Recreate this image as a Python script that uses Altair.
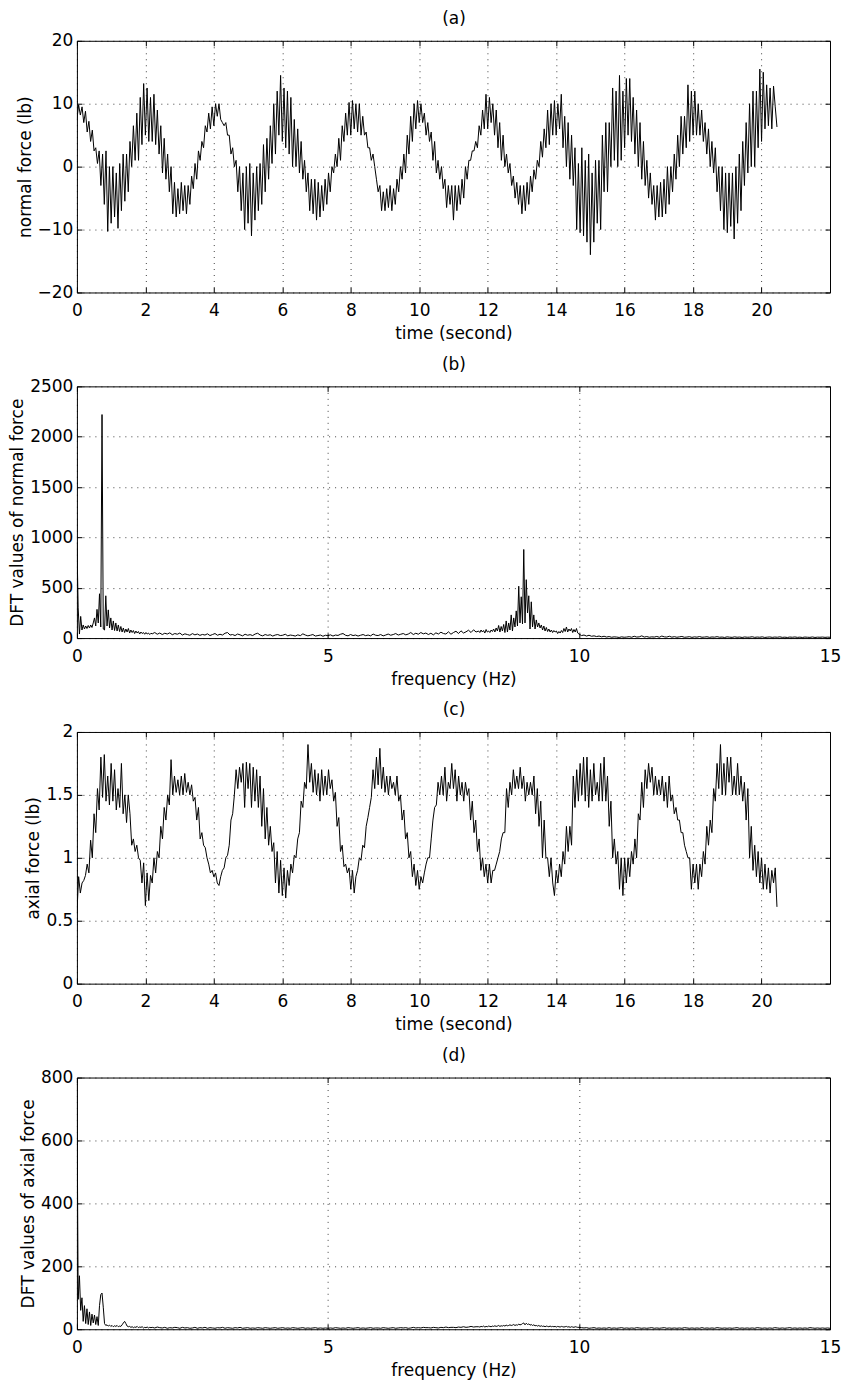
import altair as alt
import pandas as pd

FONT = "DejaVu Sans"
FS = 17
DT = 0.05  # sample interval of the force records (s)

# ---------------- (a) normal force (lb), one row = 1 s ----------------
normal_force = [
    7.5, 9.8, 8.2, 9.5, 7.0, 8.8, 5.5, 7.2, 4.0, 5.8, 2.5, 3.0, 0.5, 2.5, -3.0, 2.0, -6.0, 2.5, -10.3, 0.0,
    -9.0, 0.0, -8.0, -1.0, -9.8, 0.5, -7.0, 2.0, -5.5, 2.0, -4.0, 4.0, 0.0, 6.5, 1.0, 8.5, 1.0, 11.0, 3.5, 13.2,
    5.0, 12.5, 4.0, 11.0, 4.0, 11.5, 3.5, 9.0, 2.0, 6.5, -1.0, 4.5, -2.0, 2.0, -4.0, 0.0, -7.5, -2.5, -8.0, -3.5,
    -7.5, -2.5, -7.0, -3.0, -7.5, -3.0, -6.0, -1.5, -3.5, 0.5, -2.0, 2.5, 1.0, 4.0, 3.0, 6.5, 5.5, 8.5, 6.0, 9.5,
    6.5, 10.0, 8.0, 10.0, 7.5, 7.0, 6.5, 7.0, 5.0, 5.0, 2.0, 3.0, 0.0, 1.0, -4.0, 0.0, -7.0, -1.0, -10.0, 0.0,
    -9.0, 0.5, -11.0, -1.0, -8.5, 0.0, -7.0, 0.5, -6.0, 3.5, -4.0, 4.5, -2.0, 6.5, 0.5, 10.0, 2.0, 12.0, 5.0, 14.5,
    4.0, 12.5, 3.0, 12.0, 2.0, 11.0, 0.0, 7.5, 0.0, 6.0, -1.0, 4.0, -2.0, 1.0, -4.0, -1.0, -7.0, -2.0, -7.5, -2.0,
    -8.5, -2.5, -8.0, -3.0, -7.0, -2.0, -6.0, -1.0, -4.0, 0.0, -1.0, 2.0, 0.0, 4.5, 1.0, 6.5, 4.0, 8.5, 5.0, 10.2,
    5.0, 10.5, 6.0, 10.0, 5.5, 10.0, 5.0, 8.0, 5.0, 5.5, 3.0, 3.0, 1.0, 2.0, 0.0, -2.0, -4.0, -3.0, -7.0, -4.0,
    -7.0, -3.5, -6.5, -3.0, -7.0, -3.5, -6.0, -2.0, -4.0, 0.0, -2.0, 2.0, -1.0, 5.0, 2.0, 8.0, 4.0, 10.0, 6.0, 10.5,
    7.0, 10.0, 7.0, 8.5, 5.0, 7.0, 4.0, 5.5, 1.0, 4.0, -1.0, 1.0, -2.0, 0.0, -3.5, -2.0, -6.5, -3.0, -6.0, -3.0,
    -8.5, -3.0, -7.0, -3.0, -6.0, -2.0, -5.0, 0.0, -2.0, 1.0, 1.0, 2.5, 2.5, 4.0, 3.0, 6.5, 5.0, 9.0, 6.0, 11.5,
    6.0, 11.0, 7.0, 10.0, 5.0, 9.0, 3.0, 7.0, 1.0, 5.0, 0.0, 2.0, -1.0, 0.5, -3.0, -1.5, -5.0, -2.5, -6.0, -3.0,
    -7.5, -3.0, -7.0, -2.5, -6.0, -1.5, -4.0, -0.5, -2.0, 1.0, 0.0, 4.0, 1.5, 6.0, 3.0, 9.0, 3.5, 10.0, 5.0, 10.5,
    5.0, 10.0, 6.0, 11.5, 3.0, 8.0, 0.0, 7.0, -2.0, 5.0, -3.0, 3.0, -10.0, 0.5, -10.5, 3.0, -11.0, 1.0, -12.0, 2.0,
    -14.0, -1.0, -12.0, 1.0, -9.0, 1.0, -10.0, 5.0, -4.0, 7.0, -4.0, 7.0, 0.0, 12.5, 1.0, 12.0, 0.0, 14.5, 1.0, 12.0,
    3.0, 14.0, 5.0, 14.0, 4.0, 11.0, 2.0, 9.0, 0.0, 7.0, -2.0, 4.0, -3.0, 1.0, -5.0, -1.0, -6.0, -3.0, -8.5, -3.0,
    -8.0, -2.5, -8.0, -2.0, -7.5, 0.0, -6.0, 0.0, -4.0, 2.0, -2.0, 5.0, 0.0, 8.0, 2.0, 8.0, 3.0, 13.0, 4.0, 12.0,
    5.0, 12.0, 5.0, 10.0, 5.0, 9.0, 4.0, 7.0, 2.0, 6.0, 0.0, 4.0, -1.0, 3.0, -4.0, 0.0, -7.0, 0.0, -10.0, -1.0,
    -10.5, -1.0, -9.5, -1.0, -11.5, 0.0, -9.0, 2.0, -7.0, 4.0, -3.0, 7.0, -1.0, 10.0, 0.0, 12.0, 0.0, 12.0, 3.0, 15.5,
    4.0, 15.0, 6.0, 13.0, 6.5, 12.5, 6.0, 12.8, 9.5, 6.3,
]

# ---------------- (c) axial force (lb), one row = 1 s ----------------
axial_force = [
    0.56, 0.85, 0.72, 0.80, 0.82, 0.86, 0.95, 0.88, 1.14, 1.00, 1.35, 1.20, 1.55, 1.38, 1.80, 1.48, 1.82, 1.45, 1.65, 1.42,
    1.75, 1.45, 1.70, 1.38, 1.55, 1.40, 1.75, 1.35, 1.50, 1.28, 1.50, 1.35, 1.10, 1.15, 1.05, 1.10, 1.00, 0.98, 0.80, 0.96,
    0.62, 0.88, 0.66, 0.86, 0.80, 1.00, 0.88, 1.05, 1.00, 1.25, 1.15, 1.40, 1.30, 1.50, 1.42, 1.78, 1.50, 1.65, 1.52, 1.62,
    1.50, 1.65, 1.50, 1.67, 1.52, 1.60, 1.50, 1.58, 1.45, 1.48, 1.30, 1.40, 1.15, 1.20, 1.10, 1.08, 1.00, 0.95, 0.88, 0.90,
    0.85, 0.88, 0.80, 0.78, 0.85, 0.90, 0.92, 1.00, 1.02, 1.10, 1.30, 1.35, 1.50, 1.70, 1.55, 1.72, 1.60, 1.75, 1.40, 1.76,
    1.55, 1.75, 1.40, 1.72, 1.45, 1.70, 1.40, 1.65, 1.25, 1.55, 1.15, 1.40, 1.10, 1.25, 1.05, 1.12, 0.80, 1.05, 0.72, 0.98,
    0.70, 0.92, 0.68, 0.90, 0.78, 0.95, 0.88, 1.02, 1.00, 1.15, 1.20, 1.45, 1.40, 1.60, 1.55, 1.90, 1.60, 1.75, 1.52, 1.70,
    1.50, 1.67, 1.45, 1.70, 1.50, 1.65, 1.50, 1.70, 1.55, 1.62, 1.45, 1.52, 1.25, 1.32, 1.05, 1.10, 0.93, 0.95, 0.88, 0.92,
    0.75, 0.90, 0.72, 0.85, 0.90, 1.00, 0.98, 1.10, 1.08, 1.25, 1.32, 1.40, 1.48, 1.70, 1.55, 1.80, 1.58, 1.87, 1.55, 1.72,
    1.52, 1.65, 1.50, 1.65, 1.55, 1.60, 1.50, 1.65, 1.45, 1.50, 1.30, 1.38, 1.15, 1.20, 1.00, 1.05, 0.85, 0.95, 0.78, 0.90,
    0.75, 0.85, 0.80, 0.88, 0.95, 1.00, 1.00, 1.15, 1.30, 1.40, 1.42, 1.60, 1.50, 1.65, 1.50, 1.72, 1.45, 1.60, 1.55, 1.75,
    1.55, 1.70, 1.45, 1.65, 1.50, 1.60, 1.45, 1.60, 1.50, 1.55, 1.30, 1.45, 1.20, 1.30, 1.05, 1.15, 0.90, 1.00, 0.85, 0.95,
    0.80, 0.95, 0.80, 0.90, 0.90, 0.95, 1.00, 1.05, 1.15, 1.20, 1.20, 1.55, 1.40, 1.60, 1.50, 1.70, 1.55, 1.65, 1.55, 1.72,
    1.55, 1.65, 1.45, 1.60, 1.50, 1.60, 1.50, 1.65, 1.35, 1.55, 1.25, 1.45, 1.00, 1.30, 1.00, 1.00, 0.85, 1.00, 0.80, 0.70,
    0.90, 0.80, 0.95, 0.85, 1.05, 0.95, 1.25, 1.05, 1.25, 1.10, 1.65, 1.40, 1.70, 1.45, 1.75, 1.50, 1.80, 1.45, 1.80, 1.40,
    1.70, 1.45, 1.75, 1.50, 1.60, 1.45, 1.75, 1.45, 1.80, 1.45, 1.65, 1.25, 1.45, 1.00, 1.15, 0.95, 1.05, 0.75, 1.00, 0.70,
    1.00, 0.80, 1.00, 0.85, 1.05, 0.95, 1.15, 1.00, 1.35, 1.30, 1.60, 1.40, 1.70, 1.55, 1.75, 1.60, 1.72, 1.50, 1.65, 1.50,
    1.62, 1.50, 1.65, 1.45, 1.60, 1.40, 1.65, 1.45, 1.50, 1.35, 1.40, 1.30, 1.30, 1.20, 1.20, 1.10, 1.05, 1.00, 1.00, 0.75,
    0.95, 0.80, 0.95, 0.75, 0.95, 0.85, 1.05, 0.95, 1.25, 1.10, 1.30, 1.20, 1.55, 1.45, 1.75, 1.55, 1.90, 1.50, 1.75, 1.50,
    1.80, 1.60, 1.80, 1.50, 1.65, 1.50, 1.75, 1.50, 1.65, 1.45, 1.60, 1.30, 1.55, 1.00, 1.25, 0.90, 1.10, 0.85, 1.05, 0.80,
    1.00, 0.75, 0.95, 0.75, 0.92, 0.72, 0.90, 0.80, 0.92, 0.61,
]

# ---------------- (b) DFT of normal force ----------------
# segment grids: 0-1.5 Hz every 0.025, 1.5-8 every 0.05, 8-10 every 0.025, 10-15 every 0.05
dft_normal_low = [
    950, 300, 40, 215, 80, 130, 90, 120, 95, 125,
    100, 130, 105, 150, 200, 120, 285, 150, 440, 110,
    2220, 90, 80, 420, 120, 280, 100, 200, 80, 170,
    75, 150, 70, 130, 65, 115, 60, 100, 55, 90,
    60, 95, 50, 80, 55, 75, 45, 70, 50, 65,
    40, 60, 45, 55, 38, 55, 40, 50, 35, 48,
]
dft_normal_mid = [
    42, 55, 38, 50, 35, 48, 40, 52, 33, 45,
    38, 50, 30, 42, 35, 28, 44, 32, 40, 27,
    36, 30, 42, 25, 35, 45, 28, 38, 30, 48,
    55, 30, 35, 25, 40, 32, 22, 38, 28, 34,
    25, 40, 48, 30, 22, 35, 27, 33, 20, 30,
    35, 25, 28, 38, 22, 30, 26, 20, 32, 24,
    42, 30, 22, 28, 35, 20, 25, 30, 18, 28,
    24, 32, 20, 30, 26, 38, 45, 28, 22, 35,
    25, 30, 20, 28, 35, 24, 30, 22, 40, 28,
    25, 35, 22, 30, 40, 28, 35, 45, 30, 38,
    45, 32, 40, 55, 35, 48, 38, 55, 42, 50,
    35, 48, 32, 52, 40, 58, 45, 40, 62, 38,
    55, 68, 45, 72, 50, 62, 78, 55, 82, 60,
]
dft_normal_peak = [
    70, 55, 80, 60, 75, 50, 85, 60, 70, 55,
    80, 65, 90, 60, 100, 70, 125, 60, 115, 70,
    135, 55, 170, 60, 150, 80, 230, 70, 200, 110,
    270, 120, 515, 150, 410, 140, 880, 150, 580, 250,
    420, 90, 360, 110, 230, 90, 180, 110, 150, 100,
    130, 80, 120, 70, 105, 65, 90, 60, 80, 55,
    75, 60, 70, 45, 65, 50, 75, 55, 95, 65,
    110, 60, 90, 70, 95, 55, 85, 60, 95, 50,
]
dft_normal_high = [
    40, 25, 30, 20, 28, 18, 22, 15, 20, 12,
    18, 10, 15, 8, 12, 10, 6, 12, 8, 10,
    14, 8, 18, 10, 12, 22, 10, 15, 8, 12,
    10, 16, 8, 20, 12, 10, 18, 9, 14, 8,
    12, 16, 8, 10, 14, 7, 12, 9, 15, 8,
    10, 13, 7, 11, 9, 14, 8, 10, 6, 12,
    9, 7, 12, 8, 10, 6, 11, 8, 9, 13,
    7, 10, 8, 12, 6, 9, 11, 7, 10, 8,
    12, 7, 9, 6, 10, 8, 11, 7, 9, 6,
    10, 8, 7, 11, 6, 9, 8, 10, 7, 9,
    8,
]

# ---------------- (d) DFT of axial force ----------------
dft_axial_low = [
    790, 95, 170, 60, 100, 25, 75, 18, 65, 15,
    55, 12, 48, 20, 45, 15, 40, 12, 75, 110,
    115, 70, 18, 12, 14, 10, 13, 9, 12, 8,
    11, 9, 12, 8, 10, 9, 14, 20, 25, 18,
    10, 8, 9, 6, 8, 5, 7, 6, 9, 5,
    7, 6, 8, 4, 6, 5, 7, 4, 6, 5,
]
dft_axial_mid = [
    6, 4, 7, 5, 4, 6, 3, 5, 4, 6,
    5, 3, 6, 4, 5, 3, 4, 6, 3, 5,
    4, 6, 3, 5, 4, 3, 5, 4, 6, 3,
    5, 4, 3, 5, 4, 6, 3, 4, 5, 3,
    4, 3, 5, 4, 3, 5, 4, 3, 4, 5,
    3, 4, 5, 3, 4, 3, 5, 4, 3, 4,
    5, 3, 4, 3, 4, 5, 3, 4, 3, 4,
    3, 4, 3, 5, 4, 3, 4, 3, 5, 4,
    3, 4, 5, 3, 4, 3, 4, 5, 3, 4,
    4, 3, 5, 4, 3, 4, 5, 3, 4, 5,
    4, 5, 3, 4, 6, 4, 5, 4, 6, 5,
    5, 4, 6, 5, 4, 6, 5, 7, 5, 6,
    6, 5, 7, 6, 8, 6, 7, 9, 7, 8,
]
dft_axial_peak = [
    8, 7, 9, 8, 10, 7, 9, 8, 10, 9,
    8, 10, 9, 11, 9, 10, 12, 9, 11, 10,
    12, 10, 13, 11, 12, 14, 12, 13, 15, 12,
    14, 13, 16, 14, 15, 18, 20, 14, 19, 15,
    17, 13, 15, 12, 14, 11, 12, 10, 12, 9,
    11, 9, 10, 8, 10, 9, 8, 10, 8, 9,
    8, 9, 7, 9, 8, 7, 9, 8, 7, 8,
    9, 7, 8, 6, 8, 7, 6, 8, 7, 6,
]
dft_axial_high = [
    6, 5, 4, 5, 3, 4, 5, 3, 4, 3,
    4, 3, 5, 3, 4, 3, 4, 5, 3, 4,
    3, 4, 3, 5, 4, 3, 4, 3, 4, 5,
    3, 4, 3, 4, 5, 3, 4, 3, 4, 3,
    4, 3, 5, 4, 3, 4, 3, 4, 3, 5,
    3, 4, 3, 4, 3, 5, 4, 3, 4, 3,
    4, 3, 4, 5, 3, 4, 3, 4, 3, 4,
    3, 5, 4, 3, 4, 3, 4, 3, 5, 4,
    3, 4, 3, 4, 5, 3, 4, 3, 4, 3,
    4, 3, 5, 4, 3, 4, 3, 4, 3, 4,
    3,
]

SEGMENTS = [(0.0, 0.025), (1.5, 0.05), (8.0, 0.025), (10.0, 0.05)]

time_ticks = [0, 2, 4, 6, 8, 10, 12, 14, 16, 18, 20]
freq_ticks = [0, 5, 10, 15]
normal_ticks = [-20, -10, 0, 10, 20]
dft_normal_ticks = [0, 500, 1000, 1500, 2000, 2500]
axial_ticks = [0, 0.5, 1, 1.5, 2]
dft_axial_ticks = [0, 200, 400, 600, 800]


def series_df(values):
    return pd.DataFrame({"x": [round(i * DT, 3) for i in range(len(values))], "y": values})


def dft_df(parts):
    xs, ys = [], []
    for (start, step), vals in zip(SEGMENTS, parts):
        xs += [round(start + i * step, 4) for i in range(len(vals))]
        ys += vals
    return pd.DataFrame({"x": xs, "y": ys})


TICK = 5
W, H = 754, 252
TITLE_TXT = dict(titleFont=FONT, titleFontSize=FS, titleFontWeight="normal", titleColor="black")
TEXT = dict(labelFont=FONT, labelFontSize=FS, labelColor="black", **TITLE_TXT)
GRID = dict(grid=True, gridDash=[1, 5], gridColor="#000000", gridOpacity=0.75, gridWidth=1)


def main_axis(orient, values, title, lpad, tpad):
    return alt.Axis(orient=orient, values=values, format=".6~g", title=title, ticks=False,
                    tickSize=0, domain=False, labelPadding=lpad, titlePadding=tpad,
                    labelFlush=False, labelOverlap=False, **GRID, **TEXT)


def tick_axis(orient, values, title=None):
    if title is not None:
        extra = dict(title=title, titlePadding=12.5, **TITLE_TXT)
    else:
        extra = dict(title=None)
    return alt.Axis(orient=orient, values=values, labels=False, grid=False,
                    domain=False, ticks=True, tickSize=TICK, tickColor="#000000",
                    tickWidth=1, offset=-TICK, **extra)


def panel(df, xdom, xvals, ydom, yvals, xtitle, ytitle, label):
    xs = alt.Scale(domain=xdom, nice=False, zero=False)
    ys = alt.Scale(domain=ydom, nice=False, zero=False)
    base = alt.Chart(df)
    line = base.mark_line(color="black", strokeWidth=1, clip=True).encode(
        x=alt.X("x:Q", scale=xs, axis=main_axis("bottom", xvals, xtitle, 10, 7)),
        y=alt.Y("y:Q", scale=ys, axis=main_axis("left", yvals, ytitle, 4, 3)),
    )
    t1 = base.mark_line(opacity=0).encode(
        x=alt.X("x:Q", scale=xs, axis=tick_axis("bottom", xvals)),
        y=alt.Y("y:Q", scale=ys, axis=tick_axis("left", yvals)),
    )
    t2 = base.mark_line(opacity=0).encode(
        x=alt.X("x:Q", scale=xs, axis=tick_axis("top", xvals, label)),
        y=alt.Y("y:Q", scale=ys, axis=tick_axis("right", yvals)),
    )
    return alt.layer(line, t1, t2).resolve_axis(x="independent", y="independent").properties(
        width=W, height=H,
    )


pa = panel(series_df(normal_force), [0, 22], time_ticks, [-20, 20], normal_ticks,
           "time (second)", "normal force (lb)", "(a)")
pb = panel(dft_df([dft_normal_low, dft_normal_mid, dft_normal_peak, dft_normal_high]),
           [0, 15], freq_ticks, [0, 2500], dft_normal_ticks,
           "frequency (Hz)", "DFT values of normal force", "(b)")
pc = panel(series_df(axial_force), [0, 22], time_ticks, [0, 2], axial_ticks,
           "time (second)", "axial force (lb)", "(c)")
pd_ = panel(dft_df([dft_axial_low, dft_axial_mid, dft_axial_peak, dft_axial_high]),
            [0, 15], freq_ticks, [0, 800], dft_axial_ticks,
            "frequency (Hz)", "DFT values of axial force", "(d)")

chart = alt.vconcat(pa, pb, pc, pd_, spacing=12).properties(
    padding={"left": 0, "top": 0, "right": 0, "bottom": 0},
    background="white",
).configure_view(stroke="black", strokeWidth=1)

chart.save("out.html", embed_options={"renderer": "svg", "actions": False})
